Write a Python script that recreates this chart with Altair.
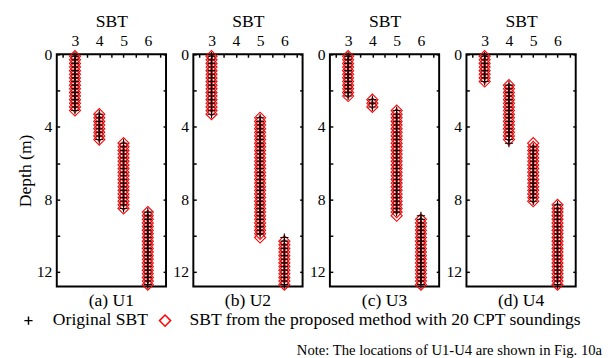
import altair as alt
import numpy as np
import pandas as pd

FONT = "Liberation Serif, Times New Roman, Times, serif"
DEPTH_STEP = 0.2  # sounding interval (m)

units = ["U1", "U2", "U3", "U4"]
panel_titles = ["(a) U1", "(b) U2", "(c) U3", "(d) U4"]
series_names = ["Original SBT", "SBT from the proposed method with 20 CPT soundings"]
note_text = "Note: The locations of U1-U4 are shown in Fig. 10a"

# Soil layers: SBT value, depth of first and last sounding point (m)
U1_sbt = [3, 4, 5, 6]
U1_orig_top = [0.1, 3.3, 4.9, 8.7]
U1_orig_bot = [3.1, 4.7, 8.5, 12.7]
U1_prop_top = [0.1, 3.3, 4.9, 8.7]
U1_prop_bot = [3.1, 4.7, 8.5, 12.7]

U2_sbt = [3, 5, 6]
U2_orig_top = [0.1, 3.5, 10.1]
U2_orig_bot = [3.3, 9.9, 12.7]
U2_prop_top = [0.1, 3.5, 10.3]
U2_prop_bot = [3.3, 10.1, 12.7]

U3_sbt = [3, 4, 5, 6]
U3_orig_top = [0.1, 2.5, 3.1, 8.9]
U3_orig_bot = [2.3, 2.9, 8.7, 12.7]
U3_prop_top = [0.1, 2.5, 3.1, 9.1]
U3_prop_bot = [2.3, 2.9, 8.9, 12.7]

U4_sbt = [3, 4, 5, 6]
U4_orig_top = [0.1, 1.7, 5.1, 8.3]
U4_orig_bot = [1.5, 4.9, 8.1, 12.7]
U4_prop_top = [0.1, 1.7, 4.9, 8.3]
U4_prop_bot = [1.5, 4.7, 8.1, 12.7]

x_major = [3, 4, 5, 6]
x_minor = [2.5, 3, 3.5, 4, 4.5, 5, 5.5, 6, 6.5]
y_major = [0, 4, 8, 12]
y_minor = [0, 2, 4, 6, 8, 10, 12]

layers = {
    "U1": (U1_sbt, U1_orig_top, U1_orig_bot, U1_prop_top, U1_prop_bot),
    "U2": (U2_sbt, U2_orig_top, U2_orig_bot, U2_prop_top, U2_prop_bot),
    "U3": (U3_sbt, U3_orig_top, U3_orig_bot, U3_prop_top, U3_prop_bot),
    "U4": (U4_sbt, U4_orig_top, U4_orig_bot, U4_prop_top, U4_prop_bot),
}


def expand(unit, series, sbt, tops, bots):
    rows = []
    for s, t, b in zip(sbt, tops, bots):
        n = int(round((b - t) / DEPTH_STEP)) + 1
        for i in range(n):
            rows.append({"unit": unit, "series": series, "sbt": s,
                         "depth": round(t + i * DEPTH_STEP, 2)})
    return rows


rows = []
for u in units:
    sbt, ot, ob, pt, pb = layers[u]
    rows += expand(u, series_names[1], sbt, pt, pb)  # diamonds drawn first
    rows += expand(u, series_names[0], sbt, ot, ob)  # plus on top
data = pd.DataFrame(rows)

PLUS = "M-1,0L1,0M0,-1L0,1"
x_scale = alt.Scale(domain=[2.25, 6.75], nice=False, zero=False)
y_scale = alt.Scale(domain=[0, 12.8], reverse=True, nice=False, zero=False)

legend = alt.Legend(
    title=None, orient="none", direction="horizontal", legendX=-38, legendY=264,
    labelFont=FONT, labelFontSize=18, labelColor="black", labelLimit=600,
    symbolStrokeWidth=1.5, columnPadding=8, labelOffset=16,
)


def panel(i):
    u = units[i]
    base = alt.Chart(data[data.unit == u])
    tick_axis = dict(labels=False, domain=False, grid=False, ticks=True, tickSize=3,
                     tickWidth=1.5, tickColor="black", offset=-3, title=None)
    ticks_a = base.mark_point(opacity=0).encode(
        x=alt.X("sbt:Q", scale=x_scale, axis=alt.Axis(orient="top", values=x_minor, **tick_axis)),
        y=alt.Y("depth:Q", scale=y_scale, axis=alt.Axis(orient="left", values=y_minor, **tick_axis)),
    )
    ticks_b = base.mark_point(opacity=0).encode(
        x=alt.X("sbt:Q", scale=x_scale, axis=None),
        y=alt.Y("depth:Q", scale=y_scale, axis=alt.Axis(orient="right", values=y_minor, **tick_axis)),
    )
    y_title = "Depth (m)" if i == 0 else None
    pts = base.mark_point(filled=False, opacity=1, strokeWidth=1.1).encode(
        x=alt.X("sbt:Q", scale=x_scale,
                axis=alt.Axis(orient="top", values=x_major, ticks=False, tickSize=0, domain=False,
                              grid=False, title="SBT", labelPadding=6, titlePadding=2,
                              labelFont=FONT, titleFont=FONT)),
        y=alt.Y("depth:Q", scale=y_scale,
                axis=alt.Axis(orient="left", values=y_major, ticks=False, tickSize=0, domain=False,
                              grid=False, title=y_title, labelPadding=5, titlePadding=2,
                              labelFont=FONT, titleFont=FONT)),
        color=alt.Color("series:N", scale=alt.Scale(domain=series_names, range=["black", "red"]),
                        legend=legend),
        shape=alt.Shape("series:N", scale=alt.Scale(domain=series_names, range=[PLUS, "diamond"]),
                        legend=legend),
        size=alt.Size("series:N", scale=alt.Scale(domain=series_names, range=[70, 130]),
                      legend=legend),
    )
    return alt.layer(ticks_a, ticks_b, pts).resolve_axis(
        x="independent", y="independent"
    ).properties(
        width=112, height=238,
        title=alt.TitleParams(panel_titles[i], orient="bottom", frame="group", fontSize=18,
                              font=FONT, fontWeight="normal", color="black", offset=0),
    )


chart = alt.hconcat(*[panel(i) for i in range(4)], spacing=28, bounds="flush").properties(
    title=alt.TitleParams(note_text, orient="bottom", anchor="end", fontSize=15, font=FONT,
                          fontWeight="normal", color="black", offset=14, dx=21),
    padding={"left": 8, "top": 0, "right": 2, "bottom": 2},
).configure_view(
    stroke="black", strokeWidth=2
).configure_axis(
    labelFont=FONT, titleFont=FONT, labelFontSize=16, titleFontSize=18,
    labelColor="black", titleColor="black", titleFontWeight="normal",
).configure_legend(
    labelFont=FONT
).configure_title(
    font=FONT
)

chart.save("out.html", embed_options={"renderer": "svg", "actions": False})
